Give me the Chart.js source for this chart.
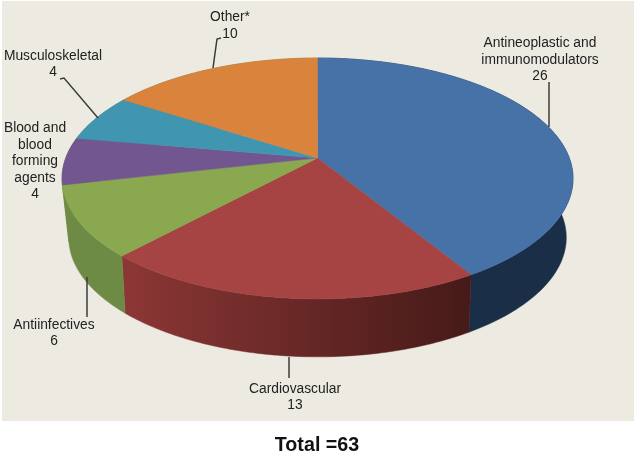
<!DOCTYPE html>
<html>
<head>
<meta charset="utf-8">
<title>Total =63</title>
<script src="https://cdn.jsdelivr.net/npm/chart.js@4"></script>
<style>
  html, body { margin: 0; padding: 0; background: #ffffff; }
  #wrap { width: 634px; height: 453px; position: relative; }
</style>
</head>
<body>
<div id="wrap"><canvas id="pieChart" width="634" height="453"></canvas></div>
<script>
// Chart data
const categories = ["Antineoplastic and immunomodulators", "Cardiovascular", "Antiinfectives", "Blood and blood forming agents", "Musculoskeletal", "Other*"];
const values = [26, 13, 6, 4, 4, 10];
const totalLabel = "Total =63";

// Slice colours, clockwise from 12 o'clock
const topColors = ["#4672a8", "#a54442", "#8aa84f", "#71568f", "#4095b0", "#d9833c"];
// The last three walls only show as a sliver next to the green one
const wallStops = [
  ["#1a2e48", "#1a2e48"],
  ["#8c3735", "#451a18"],
  ["#6e8b45", "#6e8b45"],
  ["#6e8b45", "#6e8b45"],
  ["#6e8b45", "#6e8b45"],
  ["#6e8b45", "#6e8b45"],
];

// Label text and leader lines, kept apart from the values
const labelLayout = [
  { cx: 540, lines: [[ "Antineoplastic and", 43 ], [ "immunomodulators", 60 ], [ "26", 76 ]], leader: [[549, 82], [549, 127]] },
  { cx: 295, lines: [[ "Cardiovascular", 389 ], [ "13", 405 ]], leader: [[289, 357], [289, 378]] },
  { cx: 54, lines: [[ "Antiinfectives", 325 ], [ "6", 341 ]], leader: [[87, 277], [87, 317]] },
  { cx: 35, lines: [[ "Blood and", 128 ], [ "blood", 145 ], [ "forming", 161 ], [ "agents", 178 ], [ "4", 194 ]], leader: null },
  { cx: 53, lines: [[ "Musculoskeletal", 56 ], [ "4", 72 ]], leader: [[60, 79], [64, 78], [98, 118]] },
  { cx: 230, lines: [[ "Other*", 17 ], [ "10", 34 ]], leader: [[221, 38], [217, 39], [213, 68]] },
];

const fontFamily = "'Liberation Sans', Arial, sans-serif";

// Perspective of the tilted disc, top rim and bottom rim
const topRim = { rx: 251.8, ry: 117, tilt: 0.17, drop: 0 };
const bottomRim = { rx: 244.5, ry: 115.2, tilt: 0.185, drop: 57.5 };
const center = { x: 317.5, y: 158 };

function project(angle, rim) {
  const x = Math.cos(angle);
  const y = Math.sin(angle);
  const d = 1 - rim.tilt * y;
  return [center.x + rim.rx * x / d, center.y + rim.drop + rim.ry * y / d];
}

function rimPoints(arc, rim) {
  const pts = [];
  const steps = Math.max(8, Math.ceil((arc.endAngle - arc.startAngle) * 60));
  for (let i = 0; i <= steps; i++) {
    const a = arc.startAngle + (arc.endAngle - arc.startAngle) * i / steps;
    pts.push(project(a, rim));
  }
  return pts;
}

function tracePath(ctx, pts) {
  ctx.beginPath();
  pts.forEach(function (p, i) {
    if (i === 0) ctx.moveTo(p[0], p[1]);
    else ctx.lineTo(p[0], p[1]);
  });
  ctx.closePath();
}

const panelPlugin = {
  id: "panel",
  beforeDraw: function (chart) {
    chart.ctx.fillStyle = "#edebe1";
    chart.ctx.fillRect(2, 1, 632, 420);
  },
};

// Draws the arcs Chart.js computed as a tilted 3D disc
const disc3dPlugin = {
  id: "disc3d",
  beforeDatasetDraw: function () {
    return false;
  },
  afterDatasetsDraw: function (chart) {
    const ctx = chart.ctx;
    const arcs = chart.getDatasetMeta(0).data;
    ctx.save();

    // Side walls first, the top face covers the back part
    arcs.forEach(function (arc, i) {
      const upper = rimPoints(arc, topRim);
      const lower = rimPoints(arc, bottomRim);
      const xs = upper.map(function (p) { return p[0]; });
      const grad = ctx.createLinearGradient(Math.min.apply(null, xs), 0, Math.max.apply(null, xs), 0);
      grad.addColorStop(0, wallStops[i][0]);
      grad.addColorStop(1, wallStops[i][1]);
      tracePath(ctx, upper.concat(lower.reverse()));
      ctx.fillStyle = grad;
      ctx.strokeStyle = grad;
      ctx.lineWidth = 0.5;
      ctx.fill();
      ctx.stroke();
    });

    // Top face
    arcs.forEach(function (arc, i) {
      const pts = [[center.x, center.y]].concat(rimPoints(arc, topRim));
      tracePath(ctx, pts);
      ctx.fillStyle = topColors[i];
      ctx.strokeStyle = topColors[i];
      ctx.lineWidth = 0.5;
      ctx.fill();
      ctx.stroke();
    });

    // Leader lines and labels
    ctx.strokeStyle = "#3c3c3c";
    ctx.lineWidth = 1.5;
    ctx.fillStyle = "#222222";
    ctx.font = "13.8px " + fontFamily;
    ctx.textAlign = "center";
    ctx.textBaseline = "middle";
    labelLayout.forEach(function (label) {
      if (label.leader) {
        ctx.beginPath();
        label.leader.forEach(function (p, i) {
          if (i === 0) ctx.moveTo(p[0], p[1]);
          else ctx.lineTo(p[0], p[1]);
        });
        ctx.stroke();
      }
      label.lines.forEach(function (line) {
        ctx.fillText(line[0], label.cx, line[1]);
      });
    });
    ctx.restore();
  },
};

const ctx = document.getElementById("pieChart").getContext("2d");
const pieChart = new Chart(ctx, {
  type: "pie",
  data: {
    labels: categories,
    datasets: [
      {
        data: values,
        backgroundColor: topColors,
        borderWidth: 0,
      },
    ],
  },
  options: {
    responsive: false,
    animation: false,
    plugins: {
      legend: {
        display: false,
      },
      tooltip: {
        enabled: false,
      },
      title: {
        display: true,
        position: "bottom",
        text: totalLabel,
        color: "#111111",
        font: { family: fontFamily, size: 19.7, weight: "bold", lineHeight: 1.2 },
        padding: { top: 0, bottom: -4 },
      },
    },
  },
  plugins: [panelPlugin, disc3dPlugin],
});
</script>
</body>
</html>
